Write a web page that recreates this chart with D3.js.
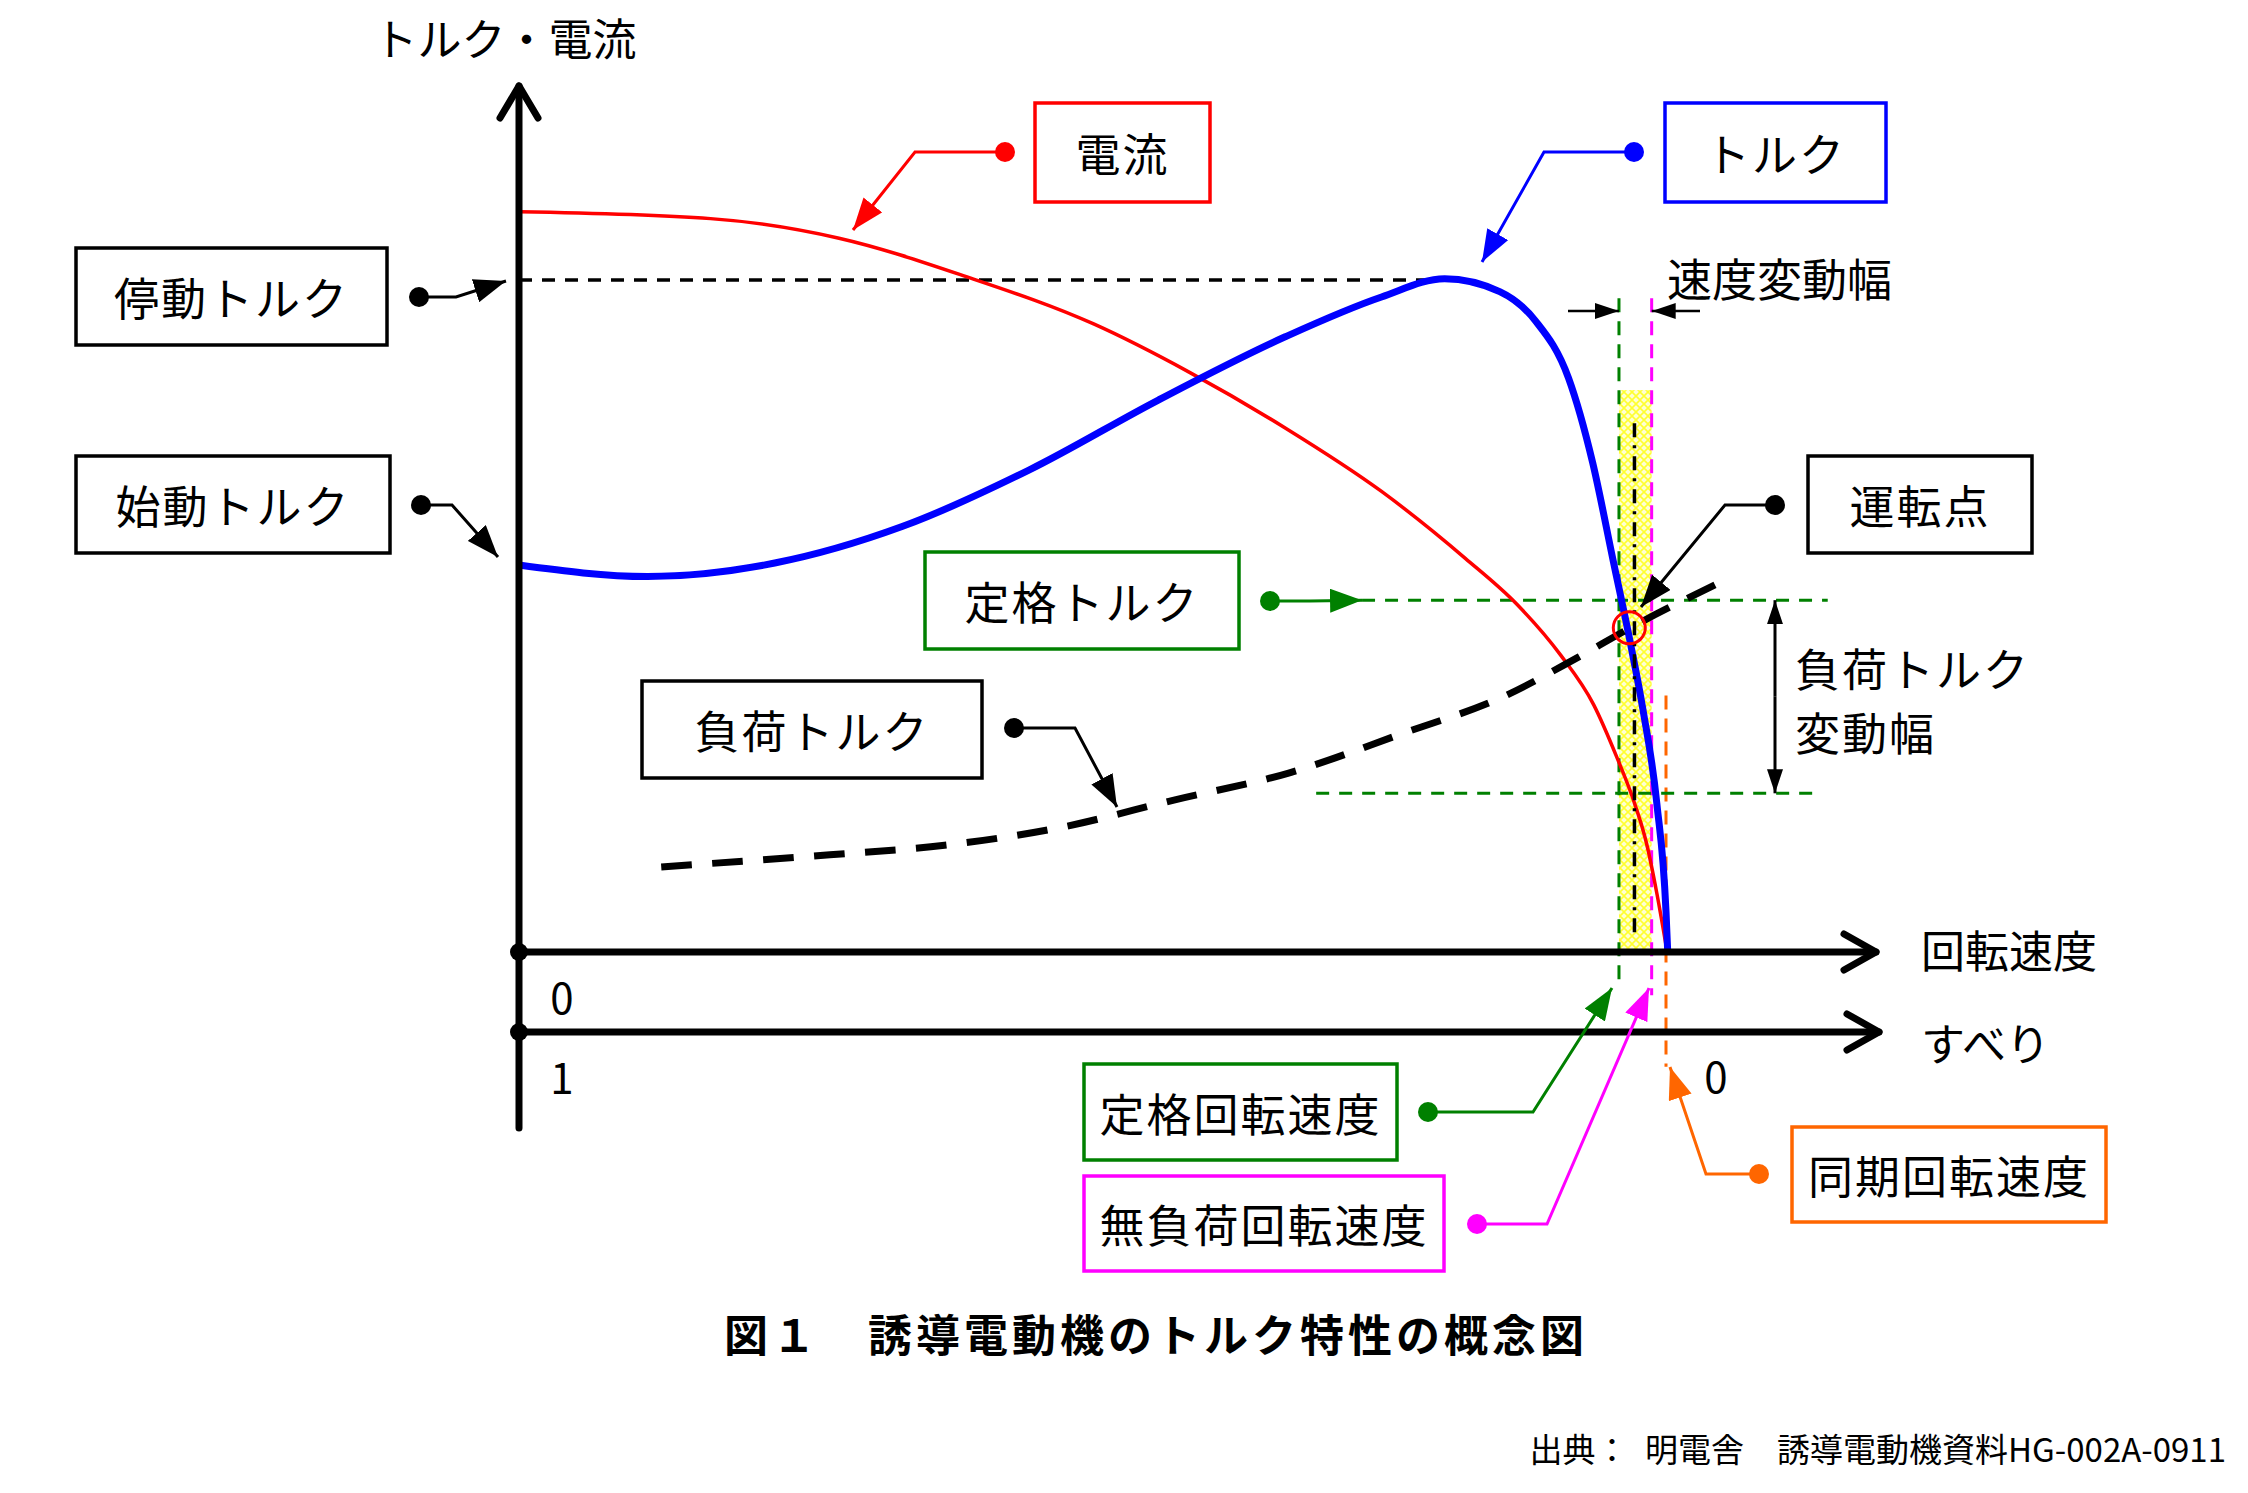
<!DOCTYPE html>
<html lang="ja">
<head>
<meta charset="utf-8" />
<title>誘導電動機のトルク特性の概念図</title>
<script src="https://cdn.jsdelivr.net/npm/d3@7"></script>
<style>
  body { margin: 0; background: #fff; }
  text { font-family: "Noto Sans CJK JP", "Noto Sans", sans-serif; fill: #000; }
</style>
</head>
<body>
<div id="chart"></div>
<script>
// speed in % of synchronous speed, values in % of breakdown torque
const currentSpeed = [0, 16.7, 27.9, 39, 50.1, 58.5, 66.8, 75.2, 82.5, 87, 90.8, 93.7, 95.7, 97.1, 98.3, 99.2, 100.1];
const currentValue = [109.6, 108.6, 105.7, 100, 93, 85.8, 77.6, 68.2, 58.3, 51.5, 44, 36.6, 28.9, 22.8, 16.1, 8.7, 0];

const torqueSpeed = [0, 11.2, 22.3, 33.4, 44.5, 55.7, 66.8, 75.2, 80.7, 85.5, 88.6, 91.5, 93.6, 95.4, 96.9, 98.0, 99.2, 100, 100.15];
const torqueValue = [57.3, 55.6, 57.6, 63, 71.4, 81.7, 91.1, 97, 99.7, 97.8, 93.5, 85, 72.5, 57.9, 45.7, 35.8, 22, 6, 0];

const loadSpeed = [12.4, 27.1, 37.1, 47.1, 57.1, 67.1, 77.1, 85.8, 92.4, 97.1, 104.3];
const loadValue = [12.6, 14.4, 15.8, 18.4, 22.5, 26.5, 32.4, 37.8, 43.7, 48.2, 54.4];

const stallTorque = 99.5, stallSpeed = 81;
const ratedTorque = 52.1, loadTorqueLow = 23.5;
const ratedSpeed = 95.9, noLoadSpeed = 98.75, syncSpeed = 100, runSpeed = 97.25;
const runPoint = [96.8, 48];
const speedTicks = ["0"], slipTicks = ["1", "0"];

const width = 2248, height = 1493;
const x = d3.scaleLinear().domain([0, 100]).range([519, 1666]);
const y = d3.scaleLinear().domain([0, 100]).range([952, 276.7]);
const axisY2 = 1032;

const svg = d3.select("#chart").append("svg")
  .attr("width", width).attr("height", height);

const defs = svg.append("defs");
const pat = defs.append("pattern").attr("id", "hatch")
  .attr("width", 8).attr("height", 8).attr("patternUnits", "userSpaceOnUse");
pat.append("rect").attr("width", 8).attr("height", 8).attr("fill", "#ffffd2");
pat.append("path").attr("d", "M0,0L8,8M8,0L0,8").attr("stroke", "#ffff30").attr("stroke-width", 1.6);

function marker(id, color, w, h) {
  defs.append("marker").attr("id", id)
    .attr("markerUnits", "userSpaceOnUse")
    .attr("markerWidth", w).attr("markerHeight", h)
    .attr("refX", w).attr("refY", h / 2).attr("orient", "auto")
    .append("path").attr("d", `M0,0L${w},${h / 2}L0,${h}Z`).attr("fill", color);
}
marker("ah-black", "#000", 32, 24);
marker("ah-red", "#ff0000", 32, 24);
marker("ah-blue", "#0000ff", 32, 24);
marker("ah-green", "#008000", 32, 24);
marker("ah-magenta", "#ff00ff", 32, 24);
marker("ah-orange", "#ff6600", 32, 24);
marker("ah-small", "#000", 24, 16);

// yellow band between rated and no-load speed
svg.append("rect")
  .attr("x", x(ratedSpeed)).attr("width", x(noLoadSpeed) - x(ratedSpeed))
  .attr("y", y(83.2)).attr("height", y(0.4) - y(83.2))
  .attr("fill", "url(#hatch)");

function vline(sp, v0, v1, color, dash, w) {
  svg.append("line")
    .attr("x1", x(sp)).attr("x2", x(sp)).attr("y1", y(v0)).attr("y2", y(v1))
    .attr("stroke", color).attr("stroke-width", w).attr("stroke-dasharray", dash);
}
function hline(v, s0, s1, color, dash, w) {
  svg.append("line")
    .attr("x1", x(s0)).attr("x2", x(s1)).attr("y1", y(v)).attr("y2", y(v))
    .attr("stroke", color).attr("stroke-width", w).attr("stroke-dasharray", dash);
}

vline(ratedSpeed, 96.8, -4.6, "#008000", "14,9", 3);
vline(noLoadSpeed, 96.8, -6.4, "#ff00ff", "14,9", 3);
vline(syncSpeed, 38, -17, "#ff6600", "14,9", 3);

hline(stallTorque, 0, stallSpeed, "#000", "13,10", 3.5);
hline(ratedTorque, 73.5, 114.1, "#008000", "13,10", 3);
hline(loadTorqueLow, 69.5, 112.9, "#008000", "13,10", 3);

const line = d3.line().x(d => x(d[0])).y(d => y(d[1])).curve(d3.curveMonotoneX);

svg.append("path").datum(d3.zip(currentSpeed, currentValue))
  .attr("d", line).attr("fill", "none").attr("stroke", "#ff0000").attr("stroke-width", 3.5);

svg.append("path").datum(d3.zip(torqueSpeed, torqueValue))
  .attr("d", line).attr("fill", "none").attr("stroke", "#0000ff").attr("stroke-width", 7);

const load = svg.append("path").datum(d3.zip(loadSpeed, loadValue))
  .attr("d", line).attr("fill", "none").attr("stroke", "#000").attr("stroke-width", 7);
// fit the dash pattern so the curve begins and ends with a dash
{
  const L = load.node().getTotalLength();
  const n = Math.round((L + 20) / 50);
  const k = (L + 20) / (n * 50);
  load.attr("stroke-dasharray", `${30 * k},${20 * k}`);
}

vline(runSpeed, 78.3, 1.9, "#000", "14,8,3,8", 3.5);

svg.append("circle")
  .attr("cx", x(runPoint[0])).attr("cy", y(runPoint[1])).attr("r", 16)
  .attr("fill", "none").attr("stroke", "#ff0000").attr("stroke-width", 3);

// axes
const ax = svg.append("g").attr("stroke", "#000").attr("stroke-width", 7)
  .attr("fill", "none").attr("stroke-linecap", "round").attr("stroke-linejoin", "round");
ax.append("line").attr("x1", x(0)).attr("x2", x(0)).attr("y1", 1128).attr("y2", 86);
ax.append("polyline").attr("points", [[x(0) - 19, 118], [x(0), 86], [x(0) + 19, 118]].join(" "));
ax.append("line").attr("x1", x(0)).attr("x2", 1876).attr("y1", y(0)).attr("y2", y(0));
ax.append("polyline").attr("points", [[1844, y(0) - 18], [1876, y(0)], [1844, y(0) + 18]].join(" "));
ax.append("line").attr("x1", x(0)).attr("x2", 1879).attr("y1", axisY2).attr("y2", axisY2);
ax.append("polyline").attr("points", [[1847, axisY2 - 18], [1879, axisY2], [1847, axisY2 + 18]].join(" "));
svg.append("circle").attr("cx", x(0)).attr("cy", y(0)).attr("r", 9).attr("fill", "#000");
svg.append("circle").attr("cx", x(0)).attr("cy", axisY2).attr("r", 9).attr("fill", "#000");

function label(t, px, py, size, anchor, weight) {
  return svg.append("text").attr("x", px).attr("y", py)
    .attr("font-size", size).attr("text-anchor", anchor || "start")
    .attr("dominant-baseline", "central").attr("font-weight", weight || "normal").text(t);
}

label("トルク・電流", 505, 37, 44, "middle");
label("回転速度", 1921, 949, 44);
label("すべり", 1921, 1042, 44);
label(speedTicks[0], 562, 995, 42, "middle");
label(slipTicks[0], 562, 1075, 42, "middle");
label(slipTicks[1], 1716, 1074, 42, "middle");

// speed variation width
svg.append("line").attr("x1", 1568).attr("x2", x(ratedSpeed)).attr("y1", 311).attr("y2", 311)
  .attr("stroke", "#000").attr("stroke-width", 2.5).attr("marker-end", "url(#ah-small)");
svg.append("line").attr("x1", 1700).attr("x2", x(noLoadSpeed)).attr("y1", 311).attr("y2", 311)
  .attr("stroke", "#000").attr("stroke-width", 2.5).attr("marker-end", "url(#ah-small)");
label("速度変動幅", 1667, 277, 45);

// load torque variation width
const lvx = 1775;
svg.append("line").attr("x1", lvx).attr("x2", lvx)
  .attr("y1", (y(ratedTorque) + y(loadTorqueLow)) / 2).attr("y2", y(ratedTorque))
  .attr("stroke", "#000").attr("stroke-width", 3).attr("marker-end", "url(#ah-small)");
svg.append("line").attr("x1", lvx).attr("x2", lvx)
  .attr("y1", (y(ratedTorque) + y(loadTorqueLow)) / 2).attr("y2", y(loadTorqueLow))
  .attr("stroke", "#000").attr("stroke-width", 3).attr("marker-end", "url(#ah-small)");
label("負荷トルク", 1795, 667, 45).attr("letter-spacing", 2);
label("変動幅", 1795, 731, 45).attr("letter-spacing", 2);

// callout boxes
const callouts = [
  { t: "停動トルク", c: "#000", m: "ah-black", box: [76, 248, 311, 97], dot: [419, 297], elbow: [456, 297], tip: [506, 281] },
  { t: "始動トルク", c: "#000", m: "ah-black", box: [76, 456, 314, 97], dot: [421, 505], elbow: [452, 505], tip: [498, 557] },
  { t: "電流", c: "#ff0000", m: "ah-red", box: [1035, 103, 175, 99], dot: [1005, 152], elbow: [915, 152], tip: [853, 230] },
  { t: "トルク", c: "#0000ff", m: "ah-blue", box: [1665, 103, 221, 99], dot: [1634, 152], elbow: [1544, 152], tip: [1482, 262] },
  { t: "運転点", c: "#000", m: "ah-black", box: [1808, 456, 224, 97], dot: [1775, 505], elbow: [1725, 505], tip: [1641, 607] },
  { t: "負荷トルク", c: "#000", m: "ah-black", box: [642, 681, 340, 97], dot: [1014, 728], elbow: [1075, 728], tip: [1117, 807] },
  { t: "定格トルク", c: "#008000", m: "ah-green", box: [925, 552, 314, 97], dot: [1270, 601], elbow: [1310, 601], tip: [x(73.5), y(ratedTorque)] },
  { t: "定格回転速度", c: "#008000", m: "ah-green", box: [1084, 1064, 313, 96], dot: [1428, 1112], elbow: [1533, 1112], tip: [1612, 988] },
  { t: "無負荷回転速度", c: "#ff00ff", m: "ah-magenta", box: [1084, 1176, 360, 95], dot: [1477, 1224], elbow: [1547, 1224], tip: [1649, 988] },
  { t: "同期回転速度", c: "#ff6600", m: "ah-orange", box: [1792, 1127, 314, 95], dot: [1759, 1174], elbow: [1706, 1174], tip: [1670, 1067] }
];

const cg = svg.selectAll(".callout").data(callouts).enter().append("g").attr("class", "callout");
cg.append("rect")
  .attr("x", d => d.box[0]).attr("y", d => d.box[1])
  .attr("width", d => d.box[2]).attr("height", d => d.box[3])
  .attr("fill", "#fff").attr("stroke", d => d.c).attr("stroke-width", 3.5);
cg.append("text")
  .attr("x", d => d.box[0] + d.box[2] / 2).attr("y", d => d.box[1] + d.box[3] / 2)
  .attr("text-anchor", "middle").attr("dominant-baseline", "central")
  .attr("font-size", 45).attr("letter-spacing", 2).text(d => d.t);
cg.append("polyline")
  .attr("points", d => [d.dot, d.elbow, d.tip].join(" "))
  .attr("fill", "none").attr("stroke", d => d.c).attr("stroke-width", 3)
  .attr("marker-end", d => `url(#${d.m})`);
cg.append("circle")
  .attr("cx", d => d.dot[0]).attr("cy", d => d.dot[1]).attr("r", 10)
  .attr("fill", d => d.c);

label("図１　誘導電動機のトルク特性の概念図", 1156, 1333, 44, "middle", "bold")
  .attr("letter-spacing", 4);
label("出典：\u2002明電舎　誘導電動機資料HG-002A-0911", 2226, 1448, 33, "end");
</script>
</body>
</html>
